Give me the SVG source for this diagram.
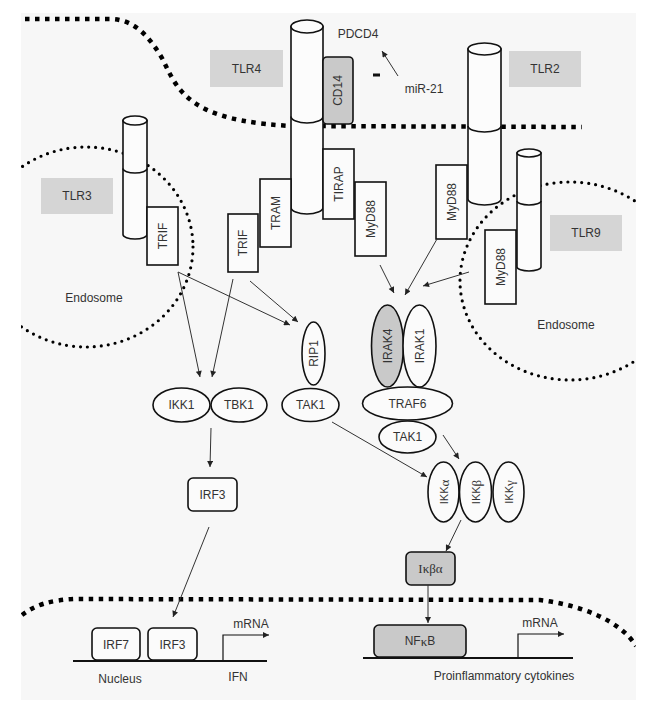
<svg xmlns="http://www.w3.org/2000/svg" width="650" height="710" viewBox="0 0 650 710">
<style>
text{font-family:"Liberation Sans",Arial,sans-serif;font-size:12px;fill:#333}
.g{font-family:"Liberation Serif","Times New Roman",serif;font-size:13px}
.lbl{fill:#d5d5d5;stroke:none}
.box{fill:#fbfbfb;stroke:#111;stroke-width:1.6}
.gbox{fill:#c9c9c9;stroke:#111;stroke-width:1.6}
.ell{fill:#fbfbfb;stroke:#111;stroke-width:1.6}
.cyl{fill:#fcfcfc;stroke:#111;stroke-width:1.6}
.arc{fill:none;stroke:#111;stroke-width:1.6}
.mem{fill:none;stroke:#000;stroke-width:4.5;stroke-dasharray:4.5 5.5}
.endo{fill:none;stroke:#000;stroke-width:3.2;stroke-dasharray:0 7;stroke-linecap:round}
.con{fill:none;stroke:#333;stroke-width:1;marker-end:url(#ah)}
.dna{fill:none;stroke:#111;stroke-width:2}
.tx{fill:none;stroke:#111;stroke-width:1.2;marker-end:url(#ah)}
.c{text-anchor:middle;dominant-baseline:central}
</style>
<defs>
<marker id="ah" viewBox="0 0 10 10" refX="10" refY="5" markerWidth="8" markerHeight="6" markerUnits="userSpaceOnUse" orient="auto">
<path d="M0,0 L10,5 L0,10 Z" fill="#222"/>
</marker>
<clipPath id="bgclip"><rect x="21" y="13" width="615" height="687"/></clipPath>
</defs>
<rect x="21" y="13" width="615" height="687" fill="#f7f7f7"/>
<g id="membranes" clip-path="url(#bgclip)">
<path class="mem" d="M25,19 H110 C135,19 150,38 162,58 C172,78 178,95 205,109 C225,119 255,124 291,126 L582,127"/>
<ellipse class="endo" cx="86" cy="247" rx="107" ry="100"/>
<ellipse class="endo" cx="570" cy="281" rx="110" ry="99"/>
<path class="mem" d="M22,615 C35,605 50,600 75,599 L540,600 C580,605 620,620 636,646"/>
</g>
<g id="labels">
<rect class="lbl" x="210" y="50" width="73" height="37"/><text class="c" x="246.5" y="69">TLR4</text>
<rect class="lbl" x="509" y="51" width="72" height="36"/><text class="c" x="545" y="69">TLR2</text>
<rect class="lbl" x="41" y="178" width="72" height="36"/><text class="c" x="77" y="196">TLR3</text>
<rect class="lbl" x="550" y="215" width="72" height="36"/><text class="c" x="586" y="233">TLR9</text>
<text class="c" x="358" y="34">PDCD4</text>
<text class="c" x="424" y="89">miR-21</text>
<rect x="373" y="73.5" width="7" height="3" fill="#111"/>
<text class="c" x="94" y="298">Endosome</text>
<text class="c" x="566" y="325">Endosome</text>
<text class="c" x="120" y="679">Nucleus</text>
<text class="c" x="238" y="677">IFN</text>
<text class="c" x="251" y="624">mRNA</text>
<text class="c" x="540" y="623">mRNA</text>
<text class="c" x="504" y="676">Proinflammatory cytokines</text>
</g>
<g id="TLR4">
<path class="cyl" d="M291,26.5 V207.5 A16,6.5 0 0 0 323,207.5 V26.5 Z"/>
<ellipse class="cyl" cx="307" cy="26.5" rx="16" ry="6.5"/>
<path class="arc" d="M291,116.5 A16,6.5 0 0 0 323,116.5"/>
</g>
<g id="TLR2">
<path class="cyl" d="M468,49 V199 A16.5,6 0 0 0 501,199 V49 Z"/>
<ellipse class="cyl" cx="484.5" cy="49" rx="16.5" ry="6"/>
<path class="arc" d="M468,126 A16.5,6 0 0 0 501,126"/>
</g>
<g id="TLR3">
<path class="cyl" d="M123,120.5 V234.5 A12,4.5 0 0 0 147,234.5 V120.5 Z"/>
<ellipse class="cyl" cx="135" cy="120.5" rx="12" ry="4.5"/>
<path class="arc" d="M123,168.5 A12,4.5 0 0 0 147,168.5"/>
</g>
<g id="TLR9">
<path class="cyl" d="M517,153 V267 A12,4 0 0 0 541,267 V153 Z"/>
<ellipse class="cyl" cx="529" cy="153" rx="12" ry="4"/>
<path class="arc" d="M517,201 A12,4 0 0 0 541,201"/>
</g>
<g id="CD14"><rect class="gbox" x="323" y="57" width="30" height="67" rx="4"/><text class="c" transform="translate(338,90.5) rotate(-90)">CD14</text></g>
<g id="TRIF3"><rect class="box" x="147" y="207" width="31" height="58"/><text class="c" transform="translate(162.5,236) rotate(-90)">TRIF</text></g>
<g id="TRIF4"><rect class="box" x="228" y="214" width="30" height="58"/><text class="c" transform="translate(243,243) rotate(-90)">TRIF</text></g>
<g id="TRAM"><rect class="box" x="260" y="179" width="31" height="68"/><text class="c" transform="translate(275.5,213) rotate(-90)">TRAM</text></g>
<g id="TIRAP"><rect class="box" x="323" y="149" width="31" height="70"/><text class="c" transform="translate(338.5,184) rotate(-90)">TIRAP</text></g>
<g id="MyD88a"><rect class="box" x="355" y="182" width="31" height="74"/><text class="c" transform="translate(370.5,219) rotate(-90)">MyD88</text></g>
<g id="MyD88b"><rect class="box" x="436" y="165" width="31" height="74"/><text class="c" transform="translate(451.5,202) rotate(-90)">MyD88</text></g>
<g id="MyD88c"><rect class="box" x="485" y="230" width="31" height="74"/><text class="c" transform="translate(500.5,267) rotate(-90)">MyD88</text></g>
<g id="IRAK4"><ellipse class="ell" style="fill:#c9c9c9" cx="387.5" cy="346" rx="16" ry="41"/><text class="c" transform="translate(387.5,346) rotate(-90)">IRAK4</text></g>
<g id="IRAK1"><ellipse class="ell" cx="419.5" cy="346" rx="16.5" ry="41"/><text class="c" transform="translate(419.5,346) rotate(-90)">IRAK1</text></g>
<g id="TRAF6"><ellipse class="ell" cx="407.5" cy="403.5" rx="45" ry="16.5"/><text class="c" x="407.5" y="403.5">TRAF6</text></g>
<g id="TAK1b"><ellipse class="ell" cx="407.5" cy="437" rx="28.5" ry="16"/><text class="c" x="407.5" y="437">TAK1</text></g>
<g id="IKKa"><ellipse class="ell" cx="443.5" cy="492" rx="15.5" ry="30"/><text class="c" transform="translate(443.5,492) rotate(-90)" style="font-size:11px">IKK<tspan class="g">α</tspan></text></g>
<g id="IKKb"><ellipse class="ell" cx="475.5" cy="492" rx="16" ry="30"/><text class="c" transform="translate(475.5,492) rotate(-90)" style="font-size:11px">IKK<tspan class="g">β</tspan></text></g>
<g id="IKKg"><ellipse class="ell" cx="508.5" cy="492" rx="15.5" ry="30"/><text class="c" transform="translate(508.5,492) rotate(-90)" style="font-size:11px">IKK<tspan class="g">γ</tspan></text></g>
<g id="RIP1"><ellipse class="ell" cx="313.5" cy="353.5" rx="11.5" ry="31.5"/><text class="c" transform="translate(313.5,353.5) rotate(-90)">RIP1</text></g>
<g id="TAK1a"><ellipse class="ell" cx="310.5" cy="405" rx="28.5" ry="16.5"/><text class="c" x="310.5" y="405">TAK1</text></g>
<g id="IKK1"><ellipse class="ell" cx="181.5" cy="405" rx="28.5" ry="17"/><text class="c" x="181.5" y="405">IKK1</text></g>
<g id="TBK1"><ellipse class="ell" cx="239" cy="405" rx="28" ry="17"/><text class="c" x="239" y="405">TBK1</text></g>
<g id="IRF3c"><rect class="box" x="188" y="478" width="49" height="33" rx="5"/><text class="c" x="212.5" y="494.5">IRF3</text></g>
<g id="Ikba"><rect class="gbox" x="406" y="552" width="49" height="33" rx="5"/><text class="c g" x="430.5" y="568.5">Iκβα</text></g>
<g id="nucleusL">
<path class="dna" d="M73,661 H267"/>
<rect class="box" x="92" y="628" width="48" height="32" rx="5"/><text class="c" x="116" y="644.5">IRF7</text>
<rect class="box" x="148" y="628" width="49" height="32" rx="5"/><text class="c" x="172.5" y="644.5">IRF3</text>
<path class="tx" d="M223,660 V635 H269"/>
</g>
<g id="nucleusR">
<path class="dna" d="M363,658 H573"/>
<rect class="gbox" x="374" y="625" width="92" height="32" rx="5"/><text class="c" x="420" y="641">NF<tspan class="g">κ</tspan>B</text>
<path class="tx" d="M518,657 V634 H564"/>
</g>
<g id="connectors">
<path class="con" d="M398,76 L382,51"/>
<path class="con" d="M178,272 L200,377"/>
<path class="con" d="M178,272 L290,325"/>
<path class="con" d="M233,279 L212,377"/>
<path class="con" d="M250,281 L298,322"/>
<path class="con" d="M437,239 L405,295"/>
<path class="con" d="M380,265 L394,293"/>
<path class="con" d="M469,272 L423,286"/>
<path class="con" d="M443,435 L459,459"/>
<path class="con" d="M332,422 L427,477"/>
<path class="con" d="M211,428 L210,467"/>
<path class="con" d="M209,527 L173,617"/>
<path class="con" d="M461,520 L446,551"/>
<path class="con" d="M428,585 L428,623"/>
</g>
</svg>
